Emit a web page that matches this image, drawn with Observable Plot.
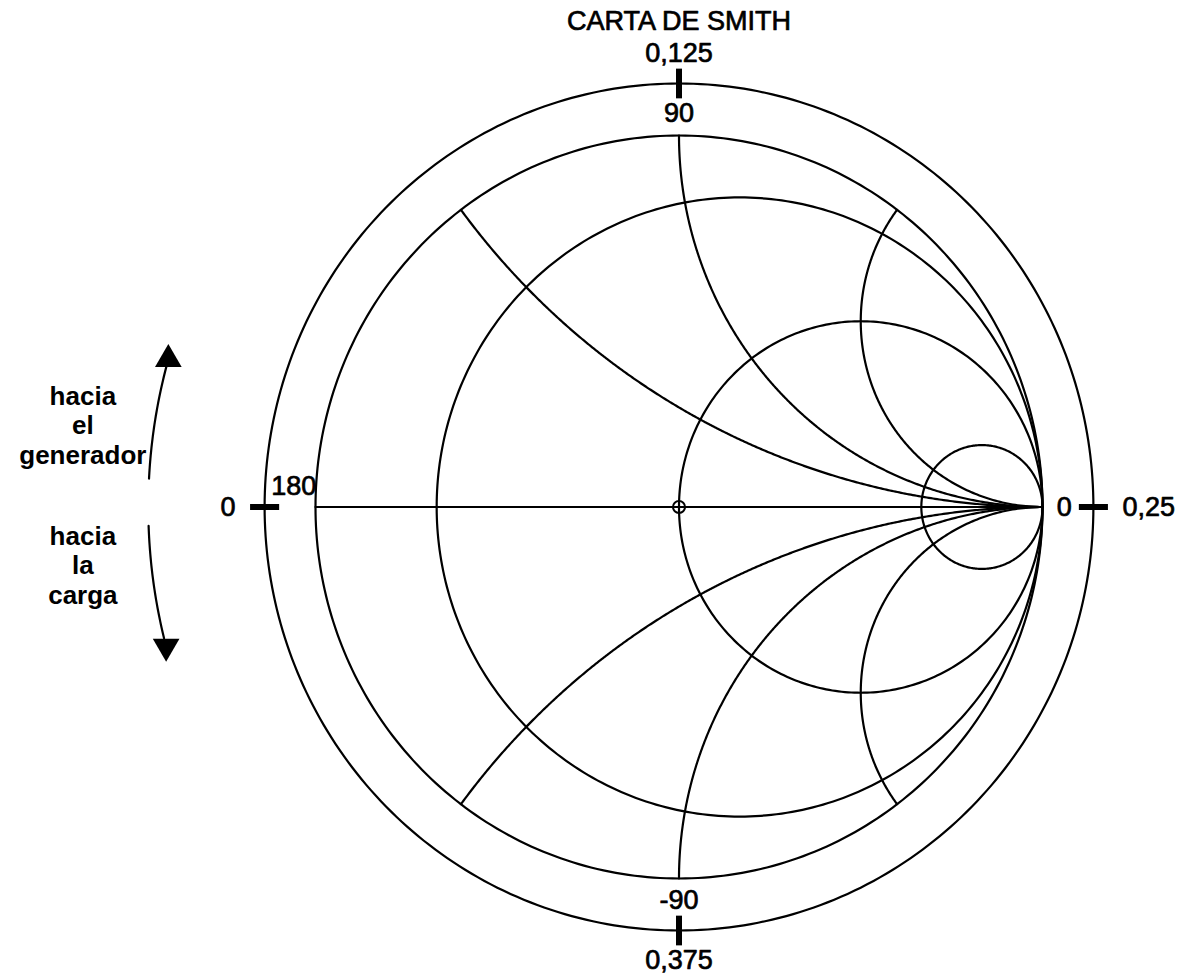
<!DOCTYPE html>
<html lang="es">
<head>
<meta charset="utf-8">
<script src="https://cdn.jsdelivr.net/npm/d3@7"></script>
<script src="https://cdn.jsdelivr.net/npm/@observablehq/plot@0.6"></script>
<style>
  html, body { margin: 0; padding: 0; background: #fff; }
  #chart svg { display: block; }
</style>
</head>
<body>
<div id="chart"></div>
<script>
// ---- Smith chart content ----
const chartTitle = "CARTA DE SMITH";
// normalized resistance circles and reactance arcs (±)
const resistances = [0, 0.2, 1, 5];
const reactances = [0.5, 1, 2];
// cardinal marks on the rim: angle of the reflection coefficient (deg) and position in wavelengths
const rimAngles = [90, 180, 0, -90];
const angleLabels = ["90", "180", "0", "-90"];
const wavelengthLabels = ["0,125", "0", "0,25", "0,375"];
// rotation direction notes on the left
const directionTexts = ["hacia\nel\ngenerador", "hacia\nla\ncarga"];

// ---- layout (in units of |Γ|) ----
const W = 1184, H = 979;
const RIM_R = 1.14;          // outer ring
const TICK_IN = 1.10, TICK_OUT = 1.18;
const ANGLE_R = 1.06;        // angle labels inside the ring
const WAVE_R = 1.22;         // wavelength labels outside the ring
const ARROW_R = 1.46;        // direction arrows follow a circle round the chart
const arrows = [
  {id: "gen", from: 177, to: 165, head: 164.2, rotate: 0},
  {id: "load", from: 182, to: 194, head: 194.9, rotate: 180}
];
const directionLayout = [
  {x: -1.64, y: 0.117},
  {x: -1.64, y: -0.26}
];

const rad = d => d * Math.PI / 180;
const px = (R, deg) => R * Math.cos(rad(deg));
const py = (R, deg) => R * Math.sin(rad(deg));

// ---- geometry ----
const grid = [];
// constant-resistance circles: centre r/(1+r), radius 1/(1+r)
for (const r of resistances) {
  const c = r / (1 + r), k = 1 / (1 + r);
  for (let i = 0; i <= 360; i++) {
    grid.push({id: `r${r}`, x: c + k * Math.cos(rad(i)), y: k * Math.sin(rad(i))});
  }
}
// constant-reactance arcs (and the real axis for x = 0), traced as r goes 0 → ∞
for (const xv of [0, ...reactances, ...reactances.map(v => -v)]) {
  const N = 400;
  for (let i = 0; i < N; i++) {
    const r = Math.tan((i / N) * Math.PI / 2);
    const D = (r + 1) * (r + 1) + xv * xv;
    grid.push({id: `x${xv}`, x: (r * r + xv * xv - 1) / D, y: 2 * xv / D});
  }
  grid.push({id: `x${xv}`, x: 1, y: 0});
}
// outer ring
const ring = d3.range(0, 361).map(i => ({x: px(RIM_R, i), y: py(RIM_R, i)}));

const rim = rimAngles.map((angle, i) => ({angle, label: angleLabels[i], wave: wavelengthLabels[i]}));

const arrowArcs = arrows.flatMap(a =>
  d3.range(0, 41).map(i => {
    const t = a.from + (a.to - a.from) * i / 40;
    return {id: a.id, x: px(ARROW_R, t), y: py(ARROW_R, t)};
  })
);

const directions = directionTexts.map((text, i) => ({text, ...directionLayout[i]}));

const font = 27;
// slightly heavier glyphs for the labels
const ink = {fill: "black", stroke: "black", strokeWidth: 0.7};
const lw = 2.2;

const chart = Plot.plot({
  width: W,
  height: H,
  margin: 0,
  x: {domain: [-1, 1], range: [315, 1042], axis: null},
  y: {domain: [-1, 1], range: [878, 135], axis: null},
  style: {fontFamily: "'Liberation Sans', Arial, sans-serif", background: "white", color: "black"},
  marks: [
    Plot.line(ring, {x: "x", y: "y", stroke: "black", strokeWidth: lw}),
    Plot.line(grid, {x: "x", y: "y", z: "id", stroke: "black", strokeWidth: lw, strokeLinejoin: "round"}),
    Plot.dot([{x: 0, y: 0}], {x: "x", y: "y", r: 6, stroke: "black", strokeWidth: 2, fill: "none"}),
    // rim ticks
    Plot.link(rim, {
      x1: d => px(TICK_IN, d.angle), y1: d => py(TICK_IN, d.angle),
      x2: d => px(TICK_OUT, d.angle), y2: d => py(TICK_OUT, d.angle),
      stroke: "black", strokeWidth: 6
    }),
    // angle labels
    Plot.text(rim, {
      filter: d => d.angle !== 180,
      x: d => px(ANGLE_R, d.angle), y: d => py(ANGLE_R, d.angle),
      text: "label", fontSize: font, lineAnchor: "middle", ...ink
    }),
    Plot.text(rim, {
      filter: d => d.angle === 180,
      x: d => px(ANGLE_R, d.angle), y: d => py(ANGLE_R, d.angle),
      text: "label", fontSize: font, lineAnchor: "middle", dy: -21, ...ink
    }),
    // wavelength labels
    Plot.text(rim, {
      filter: d => Math.abs(d.angle) === 90,
      x: d => px(WAVE_R, d.angle), y: d => py(WAVE_R, d.angle),
      text: "wave", fontSize: font, lineAnchor: "middle", ...ink
    }),
    Plot.text(rim, {
      filter: d => d.angle === 0,
      x: d => px(WAVE_R, d.angle), y: d => py(WAVE_R, d.angle),
      text: "wave", fontSize: font, lineAnchor: "middle", textAnchor: "start", ...ink
    }),
    Plot.text(rim, {
      filter: d => d.angle === 180,
      x: d => px(WAVE_R, d.angle), y: d => py(WAVE_R, d.angle),
      text: "wave", fontSize: font, lineAnchor: "middle", textAnchor: "end", ...ink
    }),
    // direction arrows
    Plot.line(arrowArcs, {x: "x", y: "y", z: "id", stroke: "black", strokeWidth: lw}),
    Plot.dot(arrows, {
      x: d => px(ARROW_R, d.head), y: d => py(ARROW_R, d.head),
      symbol: "triangle", r: 9.9, fill: "black", stroke: "none", rotate: d => d.rotate
    }),
    Plot.text(directions, {
      x: "x", y: "y", text: "text", fontSize: 26, fontWeight: "bold",
      lineAnchor: "bottom", lineHeight: 1.12
    }),
    // title
    Plot.text([chartTitle], {x: 0, y: 1.283, fontSize: font, lineAnchor: "bottom", ...ink})
  ]
});

document.getElementById("chart").append(chart);
</script>
</body>
</html>
